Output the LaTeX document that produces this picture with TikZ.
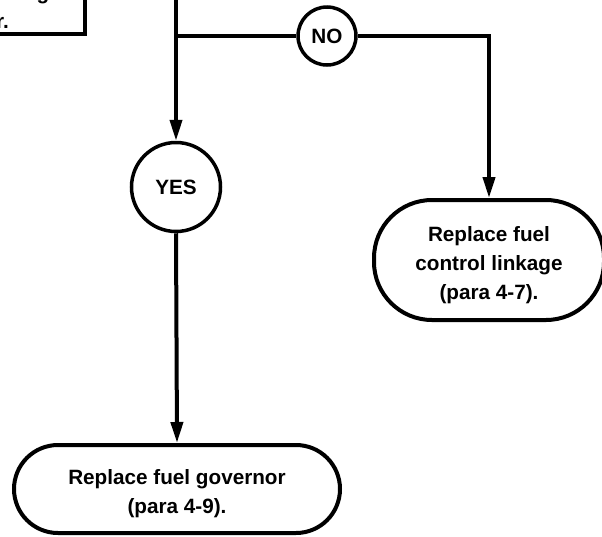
\documentclass[tikz,border=0pt]{standalone}
\usepackage{fontspec}
\setmainfont{Liberation Sans}
\usetikzlibrary{arrows.meta}
\begin{document}
\begin{tikzpicture}[x=1pt,y=-1pt,
  font=\fontsize{20.7}{29}\selectfont\bfseries,
  line/.style={line width=4pt},
  flow/.style={line width=4pt,-{Triangle[length=21pt,width=12pt]}},
  answer/.style={circle,draw,line width=3.5pt,inner sep=0pt,fill=white},
  terminal/.style={draw,line width=4pt,align=center,inner sep=0pt,rounded corners=#1},
  stepbox/.style={draw,line width=4pt,rectangle}
]
\useasboundingbox (0,0) rectangle (602,536);
\clip (0,0) rectangle (602,536);

% previous step box, running off the top-left edge
\node[stepbox,minimum width=300pt,minimum height=100pt] (check) at (-65,-16) {};
\node[anchor=base east,inner sep=0pt] (checkA) at (61,-1) {ge};
\node[anchor=base east,inner sep=0pt] (checkB) at (9,28) {r.};

% answers
\node[answer,minimum size=89pt] (yes) at (176,187) {\raisebox{-3pt}{YES}};
\node[answer,minimum size=58pt] (no) at (327,36) {\raisebox{-1pt}{NO}};

% outcomes (the strut on the first line lowers the text block a little)
\node[terminal=58pt,minimum width=230pt,minimum height=120pt] (linkage) at (489,260)
  {\rule{0pt}{25pt}Replace fuel\\control linkage\\(para 4-7).};
\node[terminal=44pt,minimum width=326pt,minimum height=88pt] (governor) at (177,489)
  {\rule{0pt}{25pt}Replace fuel governor\\(para 4-9).};

% connectors
\coordinate (top) at (176,-5);
\coordinate (split) at (176,36);
\draw[flow] (top) -- (yes.north);
\draw[line] (split) -- (no.west);
\draw[flow] (no.east) -| (linkage.north);
\draw[flow] (yes.south) -- (governor.north);
\end{tikzpicture}
\end{document}
